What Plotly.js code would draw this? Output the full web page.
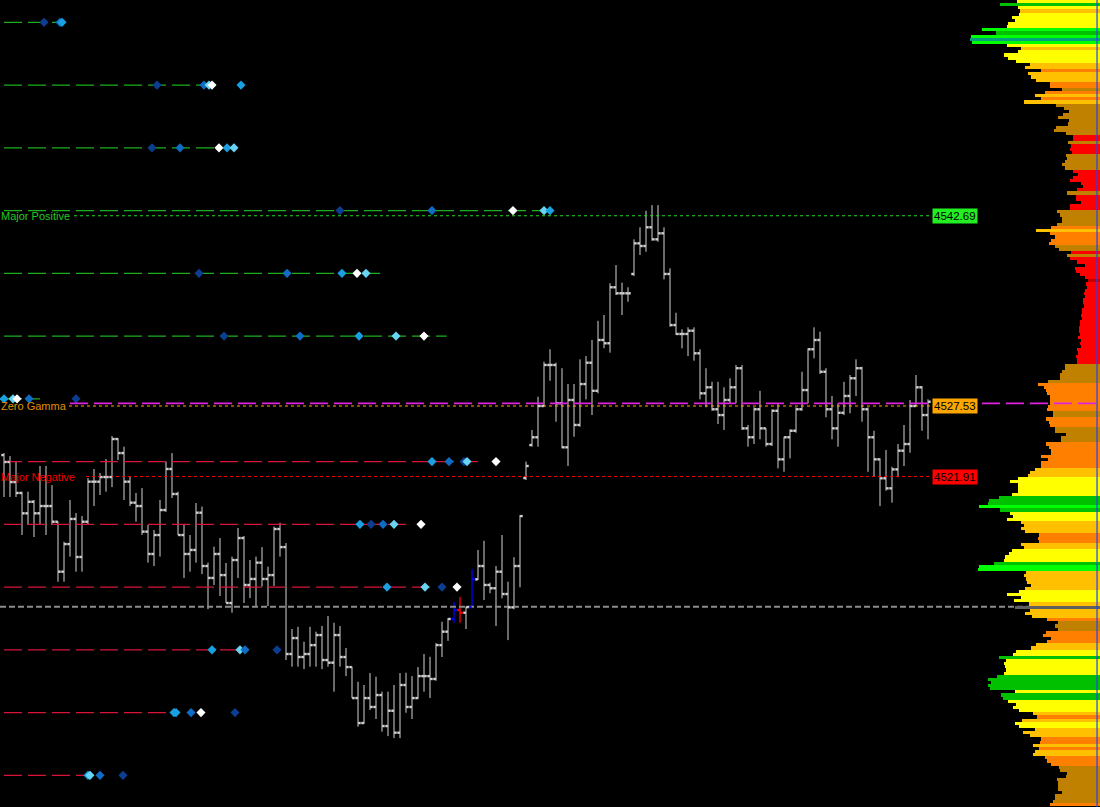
<!DOCTYPE html>
<html><head><meta charset="utf-8">
<script src="https://cdn.plot.ly/plotly-3.0.1.min.js"></script>
<style>html,body{margin:0;padding:0;background:#000;}#chart{width:1100px;height:807px;}</style>
</head><body><div id="chart"></div>
<script>
// ---------- price bars (one per period) ----------
const barOpen = [4523.62,4523.07,4521.47,4520.60,4518.98,4519.90,4518.98,4519.56,4519.56,4518.31,
4514.33,4516.53,4518.53,4515.50,4518.31,4521.50,4521.50,4521.87,4521.87,4524.90,
4523.78,4521.50,4519.83,4519.56,4517.52,4515.74,4517.25,4519.24,4522.51,4520.52,
4517.25,4515.74,4516.06,4519.03,4514.78,4513.83,4515.74,4514.06,4511.83,4515.26,
4517.01,4513.27,4513.75,4515.05,4513.75,4514.06,4517.73,4516.29,4507.77,4509.04,
4507.53,4507.77,4508.48,4509.28,4507.29,4507.08,4509.28,4507.53,4506.73,4504.26,
4502.27,4504.26,4503.55,4504.50,4502.03,4503.25,4501.50,4505.30,4503.55,4504.26,
4506.01,4506.01,4505.78,4508.48,4509.55,4510.56,4511.27,4511.06,4511.49,4513.72,
4514.78,4513.27,4513.01,4514.33,4512.55,4511.49,4514.78,4521.79,4524.42,4525.04,
4527.53,4530.80,4530.80,4527.75,4524.24,4528.01,4526.02,4529.28,4530.98,4528.74,
4532.79,4532.53,4536.99,4536.51,4536.51,4538.05,4540.49,4540.28,4541.77,4540.81,
4541.29,4538.05,4533.98,4533.27,4533.27,4533.53,4531.73,4528.54,4529.02,4527.27,
4526.81,4528.01,4529.02,4530.54,4525.75,4525.04,4527.27,4525.75,4524.50,4527.15,
4523.28,4525.04,4525.56,4527.27,4528.80,4532.05,4532.79,4530.26,4527.27,4525.75,
4526.99,4528.33,4529.74,4530.54,4527.27,4525.04,4523.28,4521.77,4520.97,4522.48,
4523.97,4524.50,4527.53,4529.02,4526.81];
const barHigh = [4523.78,4523.54,4523.07,4520.70,4520.70,4520.04,4522.75,4522.75,4521.23,4518.31,
4516.71,4520.04,4519.00,4518.76,4521.79,4522.51,4522.19,4523.31,4525.14,4524.98,
4524.29,4521.90,4520.60,4520.99,4518.05,4517.65,4520.04,4523.10,4523.78,4520.70,
4518.05,4517.25,4519.80,4519.51,4515.05,4516.32,4517.01,4515.02,4515.53,4517.81,
4517.17,4515.26,4515.53,4516.29,4514.73,4517.92,4518.23,4516.61,4509.76,4509.94,
4508.75,4509.94,4509.55,4510.00,4510.79,4510.26,4510.00,4508.25,4506.76,4505.56,
4505.30,4506.25,4505.96,4504.77,4504.77,4505.30,4506.25,4506.28,4506.01,4506.73,
4507.77,4507.55,4508.64,4510.34,4510.64,4511.94,4512.31,4511.54,4514.52,4516.06,
4516.79,4513.45,4514.78,4517.25,4513.53,4515.48,4518.84,4523.10,4525.62,4528.27,
4531.06,4532.05,4530.98,4530.54,4529.28,4529.28,4531.25,4531.51,4532.79,4534.32,
4534.78,4537.31,4538.76,4537.36,4536.99,4540.81,4541.77,4543.09,4543.54,4543.54,
4541.77,4538.50,4534.96,4533.64,4533.80,4533.80,4532.05,4530.54,4529.46,4529.46,
4529.02,4529.74,4530.80,4530.80,4526.02,4527.43,4528.74,4525.75,4527.27,4527.69,
4525.08,4525.67,4527.43,4530.26,4532.13,4533.80,4533.45,4530.54,4528.33,4527.75,
4529.46,4530.00,4531.25,4530.66,4527.43,4525.56,4523.36,4524.02,4522.69,4524.50,
4526.02,4528.01,4530.00,4529.12,4528.06];
const barLow = [4520.28,4520.28,4520.28,4517.25,4518.05,4517.09,4518.05,4517.25,4518.05,4513.53,
4513.53,4515.53,4514.33,4514.33,4518.05,4519.56,4520.44,4520.70,4521.07,4523.23,
4520.04,4519.56,4518.31,4517.25,4515.05,4514.78,4515.53,4519.10,4520.20,4517.25,
4513.83,4514.33,4515.05,4514.14,4511.35,4513.27,4512.39,4511.83,4511.06,4513.83,
4511.83,4512.23,4511.59,4513.14,4511.59,4513.19,4515.53,4507.29,4506.76,4506.76,
4506.57,4506.76,4506.76,4506.57,4506.76,4504.77,4506.76,4506.01,4504.26,4501.98,
4502.19,4503.31,4502.59,4501.58,4501.23,4501.07,4501.07,4503.09,4502.59,4504.18,
4504.77,4504.26,4505.64,4507.53,4508.82,4510.26,4510.26,4509.76,4511.49,4513.67,
4512.07,4512.61,4510.00,4512.21,4508.88,4511.33,4513.09,4521.63,4524.29,4524.29,
4527.47,4529.54,4526.28,4524.16,4522.75,4525.08,4525.88,4528.06,4526.81,4528.54,
4532.13,4531.78,4536.37,4534.78,4535.84,4537.89,4539.56,4539.82,4540.70,4540.62,
4537.62,4533.85,4533.19,4532.13,4531.51,4531.14,4528.06,4527.43,4527.15,4526.09,
4525.62,4527.69,4527.75,4525.62,4524.29,4524.50,4524.88,4524.29,4524.34,4522.56,
4522.29,4523.36,4525.40,4527.15,4527.75,4531.33,4530.08,4526.63,4524.88,4524.29,
4526.81,4526.95,4528.33,4526.28,4522.29,4521.90,4519.56,4520.78,4519.83,4521.85,
4522.75,4523.81,4527.47,4525.56,4524.88];
const barClose = [4523.07,4521.47,4520.60,4518.98,4519.90,4518.98,4519.56,4519.56,4518.31,4514.33,
4516.53,4518.53,4515.50,4518.31,4521.50,4521.50,4521.87,4521.87,4524.90,4523.78,
4521.50,4519.83,4519.56,4517.52,4515.74,4517.25,4519.24,4522.51,4520.52,4517.25,
4515.74,4516.06,4519.03,4514.78,4513.83,4515.74,4514.06,4511.83,4515.26,4517.01,
4513.27,4513.75,4515.05,4513.75,4514.06,4517.73,4516.29,4507.77,4509.04,4507.53,
4507.77,4508.48,4509.28,4507.29,4507.08,4509.28,4507.53,4506.73,4504.26,4502.27,
4504.26,4503.55,4504.50,4502.03,4503.25,4501.50,4505.30,4503.55,4504.26,4506.01,
4506.01,4505.78,4508.48,4509.55,4510.56,4511.27,4511.06,4511.51,4513.72,4514.78,
4513.27,4513.01,4514.33,4512.55,4511.49,4514.78,4518.76,4522.75,4525.04,4527.53,
4530.80,4530.80,4527.75,4524.24,4528.01,4526.02,4529.28,4530.98,4528.74,4532.79,
4532.53,4536.99,4536.51,4536.51,4536.51,4540.49,4540.28,4541.77,4540.81,4541.29,
4538.05,4533.98,4533.27,4533.27,4533.53,4531.73,4528.54,4529.02,4527.27,4526.81,
4528.01,4529.02,4530.54,4525.75,4525.04,4527.27,4525.75,4524.50,4527.15,4523.28,
4525.04,4525.56,4527.27,4528.80,4532.05,4532.79,4530.26,4527.27,4525.75,4526.99,
4528.33,4529.74,4530.54,4527.27,4525.04,4523.28,4521.77,4520.97,4522.48,4523.97,
4524.50,4527.53,4529.02,4526.81,4527.87];
// bars painted by the signal study
const signalBars = {75: 'up', 76: 'down', 78: 'up'};

// ---------- gamma strike levels ----------
const levelPrices  = [4558.1,4553.1,4548.1,4543.1,4538.1,4533.1,4528.1,4523.1,4518.1,4513.1,4508.1,4503.1,4498.1];
const levelEndBar  = [10,35,38.8,91.5,62.7,73.8,6,79,67,71,40.7,28.7,14];
const levelSide    = ['call','call','call','call','call','call','call','put','put','put','put','put','put'];

// snapshot markers on the strike levels
const dotPrice = [4558.1,4558.1,4558.1,
 4553.1,4553.1,4553.1,4553.1,4553.1,
 4548.1,4548.1,4548.1,4548.1,4548.1,
 4543.1,4543.1,4543.1,4543.1,4543.1,
 4538.1,4538.1,4538.1,4538.1,4538.1,
 4533.1,4533.1,4533.1,4533.1,4533.1,
 4528.1,4528.1,4528.1,4528.1,4528.1,
 4523.1,4523.1,4523.1,4523.1,4523.1,
 4518.1,4518.1,4518.1,4518.1,4518.1,
 4513.1,4513.1,4513.1,4513.1,
 4508.1,4508.1,4508.1,4508.1,
 4503.1,4503.1,4503.1,4503.1,4503.1,
 4498.1,4498.1,4498.1,4498.1];
const dotBar = [6.67,9.33,9.67,
 25.5,33.33,34.17,34.67,39.5,
 24.67,29.33,35.83,37.17,38.33,
 56,71.33,84.83,90,91,
 32.5,47.17,56.33,58.83,60.33,
 36.67,49.33,59.17,65.33,70,
 0,1.5,2.17,4.17,12,
 71.33,74.17,76.67,77.17,82,
 59.33,61.17,63.17,65,69.5,
 63.83,70.17,73,75.5,
 34.67,39.33,40.17,45.5,
 28.33,28.67,31.17,32.83,38.5,
 14,14.33,16,19.83];
const dotTone = ['navy','blue','cyan',
 'navy','blue','light','white','cyan',
 'navy','blue','white','cyan','light',
 'navy','blue','white','light','cyan',
 'navy','blue','cyan','white','light',
 'navy','blue','cyan','light','white',
 'cyan','light','white','blue','navy',
 'cyan','blue','navy','light','white',
 'cyan','navy','blue','light','white',
 'cyan','light','navy','white',
 'cyan','light','blue','navy',
 'cyan','cyan','blue','white','navy',
 'cyan','light','blue','navy'];

// key gamma levels
const keyNames  = ['Major Positive','Zero Gamma','Major Negative'];
const keyPrices = [4542.69,4527.53,4521.91];
const keyLabels = ['4542.69','4527.53','4521.91'];
const hvlLevel = 4527.74;
const lastPrice = 4511.54;

// ---------- volume profile (0.25 price ladder, top to bottom) ----------
const profilePrices = [4559.75,4559.5,4559.25,4559,4558.75,4558.5,4558.25,4558,4557.75,4557.5,4557.25,4557,
4556.75,4556.5,4556.25,4556,4555.75,4555.5,4555.25,4555,4554.75,4554.5,4554.25,4554,
4553.75,4553.5,4553.25,4553,4552.75,4552.5,4552.25,4552,4551.75,4551.5,4551.25,4551,
4550.75,4550.5,4550.25,4550,4549.75,4549.5,4549.25,4549,4548.75,4548.5,4548.25,4548,
4547.75,4547.5,4547.25,4547,4546.75,4546.5,4546.25,4546,4545.75,4545.5,4545.25,4545,
4544.75,4544.5,4544.25,4544,4543.75,4543.5,4543.25,4543,4542.75,4542.5,4542.25,4542,
4541.75,4541.5,4541.25,4541,4540.75,4540.5,4540.25,4540,4539.75,4539.5,4539.25,4539,
4538.75,4538.5,4538.25,4538,4537.75,4537.5,4537.25,4537,4536.75,4536.5,4536.25,4536,
4535.75,4535.5,4535.25,4535,4534.75,4534.5,4534.25,4534,4533.75,4533.5,4533.25,4533,
4532.75,4532.5,4532.25,4532,4531.75,4531.5,4531.25,4531,4530.75,4530.5,4530.25,4530,
4529.75,4529.5,4529.25,4529,4528.75,4528.5,4528.25,4528,4527.75,4527.5,4527.25,4527,
4526.75,4526.5,4526.25,4526,4525.75,4525.5,4525.25,4525,4524.75,4524.5,4524.25,4524,
4523.75,4523.5,4523.25,4523,4522.75,4522.5,4522.25,4522,4521.75,4521.5,4521.25,4521,
4520.75,4520.5,4520.25,4520,4519.75,4519.5,4519.25,4519,4518.75,4518.5,4518.25,4518,
4517.75,4517.5,4517.25,4517,4516.75,4516.5,4516.25,4516,4515.75,4515.5,4515.25,4515,
4514.75,4514.5,4514.25,4514,4513.75,4513.5,4513.25,4513,4512.75,4512.5,4512.25,4512,
4511.75,4511.5,4511.25,4511,4510.75,4510.5,4510.25,4510,4509.75,4509.5,4509.25,4509,
4508.75,4508.5,4508.25,4508,4507.75,4507.5,4507.25,4507,4506.75,4506.5,4506.25,4506,
4505.75,4505.5,4505.25,4505,4504.75,4504.5,4504.25,4504,4503.75,4503.5,4503.25,4503,
4502.75,4502.5,4502.25,4502,4501.75,4501.5,4501.25,4501,4500.75,4500.5,4500.25,4500,
4499.75,4499.5,4499.25,4499,4498.75,4498.5,4498.25,4498,4497.75,4497.5,4497.25,4497,
4496.75,4496.5,4496.25,4496,4495.75];
const profileVolume = [83,100,82,80,81,88,85,92,93,118,
104,129,130,128,93,79,82,96,92,84,
70,75,59,72,69,64,50,50,38,55,
65,59,76,44,36,31,37,42,31,32,
44,46,34,27,27,32,29,30,28,34,
33,35,38,35,27,22,27,30,19,17,
23,33,24,24,19,30,30,43,40,38,
38,43,49,64,50,45,49,51,45,41,
29,33,30,23,15,25,24,20,15,12,
14,13,15,16,15,17,17,16,18,18,
19,18,20,20,21,21,20,22,19,20,
19,23,22,24,23,23,35,35,38,40,
40,52,62,56,54,53,50,50,50,52,
53,47,47,54,51,50,45,45,34,39,
39,54,51,49,49,59,52,59,59,65,
70,72,82,90,82,82,82,88,101,111,
112,121,100,90,87,93,79,76,79,75,
61,62,61,79,76,88,91,95,96,106,
121,122,74,76,74,73,69,75,81,93,
79,86,71,85,70,75,68,53,42,45,
42,54,57,49,53,64,69,84,87,101,
94,96,95,94,96,103,112,109,112,110,
85,99,97,92,84,87,81,67,63,78,
85,81,65,77,70,59,60,67,61,65,
67,55,53,49,41,40,33,34,43,42,
42,42,38,45,45,47,50];
// profile zone class per price (Y yellow, G gold, O orange, D dark gold, R red, K dark red, g green, B lime, T teal, X current)
const profileZone = ("YgYGYYYYYB"+"gBTBYGYYYY"+"GGOGGGOODO"+"GOGDDDDDDD"+"DDDRRDRRRD"+
 "DDDDRRRRRR"+"RDRRRRRDDD"+"DDOGOOOODD"+"RDRRRRRRRK"+"RRRRRRRRRR"+
 "RRRRRRRRRR"+"RRRRRRDDDD"+"DDOOOOOOOO"+"ODDOOODDDD"+"DOOOOOOOOG"+
 "GGYYYYYYgg"+"gBgYYYGGGG"+"OOOGGYYYYg"+"BBGGGGGGYY"+"YYGXGGGODD"+
 "DOOOOGGYYg"+"YYYYYggggg"+"YggYYYYGOG"+"YYGGGOOGOG"+"GOOODDDDDD"+"DDDDDDO").split('');

// ---------- styles ----------
const zoneColor = {Y:'#ffff00',G:'#ffc000',O:'#ff8000',D:'#c08000',R:'#ff0000',K:'#c00000',g:'#00c000',B:'#00ff00',T:'#00a080',X:'#606060'};
const toneColor = {navy:'#0b3d91',blue:'#0e6cc4',cyan:'#1aa0e0',light:'#66d4f2',white:'#ffffff'};
const sideColor = {call:'#1cae1c',put:'#d8143a'};
const barColor = '#d4d4d4';
const signalColor = {up:'#0000ff', down:'#ff0000'};
const keyColor = ['#22c822','#e09000','#ee0000'];
const keyLineColor = ['#22dd22','#ffa500','#ff0000'];
const keyTagColor = ['#22ee22','#ffa500','#ff0000'];
const keyLineStart = [11.67,10.83,13.67];
const tagBar = 154.67;
const tickOffset = 0.25;

const FONT = 'Liberation Sans, Arial, sans-serif';
const idx = barOpen.map((_, i) => i);
const colorOf = i => (i in signalBars) ? signalColor[signalBars[i]] : barColor;
const traces = [];

// strike level dashed lines
levelPrices.forEach((p, j) => {
  traces.push({type:'scatter', mode:'lines', x:[0, levelEndBar[j]], y:[p, p],
    line:{color: sideColor[levelSide[j]], width:1.1, dash:'18px,6px'}, hoverinfo:'skip'});
});

// last price dashed gray
traces.push({type:'scatter', mode:'lines', x:[-0.667, 182.667], y:[lastPrice, lastPrice],
  line:{color:'#8c8c8c', width:2, dash:'6px,3px'}, hoverinfo:'skip'});

// key dotted lines
keyPrices.forEach((p, j) => {
  traces.push({type:'scatter', mode:'lines', x:[keyLineStart[j], tagBar], y:[p, p],
    line:{color: keyLineColor[j], width:1.1, dash:'3px,3px'}, hoverinfo:'skip'});
});

// ohlc bars
function pick(arr, cond) { return arr.filter((_, i) => cond(i)); }
const normal = i => !(i in signalBars);
const ohlcStyle = (c, w) => ({increasing:{line:{color:c, width:w}}, decreasing:{line:{color:c, width:w}}});
traces.push(Object.assign({type:'ohlc', x:pick(idx, normal), open:pick(barOpen, normal), high:pick(barHigh, normal),
  low:pick(barLow, normal), close:pick(barClose, normal), tickwidth:0.3, hoverinfo:'skip'}, ohlcStyle(barColor, 1)));
['up','down'].forEach(kind => {
  const f = i => signalBars[i] === kind;
  traces.push(Object.assign({type:'ohlc', x:pick(idx, f), open:pick(barOpen, f), high:pick(barHigh, f),
    low:pick(barLow, f), close:pick(barClose, f), tickwidth:0.3, hoverinfo:'skip'}, ohlcStyle(signalColor[kind], 1.3)));
});
// thicker open / close ticks
traces.push({type:'scatter', mode:'markers', x:idx.map(i => i - tickOffset), y:barOpen,
  marker:{symbol:'square', size:2.4, color:idx.map(colorOf), line:{width:0}}, hoverinfo:'skip'});
traces.push({type:'scatter', mode:'markers', x:idx.map(i => i + tickOffset), y:barClose,
  marker:{symbol:'square', size:2.4, color:idx.map(colorOf), line:{width:0}}, hoverinfo:'skip'});

// snapshot dots
traces.push({type:'scatter', mode:'markers', x:dotBar, y:dotPrice,
  marker:{symbol:'diamond', size:7, color:dotTone.map(t => toneColor[t]), line:{width:0}}, hoverinfo:'skip'});

// volume profile
traces.push({type:'bar', orientation:'h', x:profileVolume, y:profilePrices, width:0.25,
  xaxis:'x2', yaxis:'y', marker:{color:profileZone.map(z => zoneColor[z]), line:{width:0}}, hoverinfo:'skip'});

const annotations = [];
keyNames.forEach((n, j) => {
  annotations.push({text:n, xref:'paper', x:0, xanchor:'left', yref:'y', y:keyPrices[j], yanchor:'middle',
    showarrow:false, font:{family:FONT, size:11, color:keyColor[j]}, borderpad:0});
  annotations.push({text:keyLabels[j], xref:'x', x:tagBar, xanchor:'left', yref:'y', y:keyPrices[j], yanchor:'middle',
    showarrow:false, bgcolor:keyTagColor[j], font:{family:FONT, size:11.5, color:'#000'}, borderpad:1});
});

const layout = {
  width:1100, height:807, margin:{l:0, r:0, t:0, b:0},
  paper_bgcolor:'#000', plot_bgcolor:'#000', showlegend:false, hovermode:false,
  bargap:0,
  xaxis:{range:[-0.667, 182.667], visible:false, rangeslider:{visible:false}, fixedrange:true},
  xaxis2:{overlaying:'x', range:[1100, 0], visible:false, fixedrange:true},
  yaxis:{range:[4495.58, 4559.88], visible:false, fixedrange:true},
  shapes:[
    {type:'line', xref:'paper', x0:0.0636, x1:1, yref:'y', y0:hvlLevel, y1:hvlLevel,
     line:{color:'#e022e0', width:1.6, dash:'18px,6px'}, layer:'above'},
    {type:'line', xref:'paper', x0:0.9973, x1:0.9973, yref:'paper', y0:0, y1:1,
     line:{color:'#2040ff', width:1.2}, layer:'above'}
  ],
  annotations: annotations
};

Plotly.newPlot('chart', traces, layout, {staticPlot:true, displayModeBar:false});
</script>
</body></html>
